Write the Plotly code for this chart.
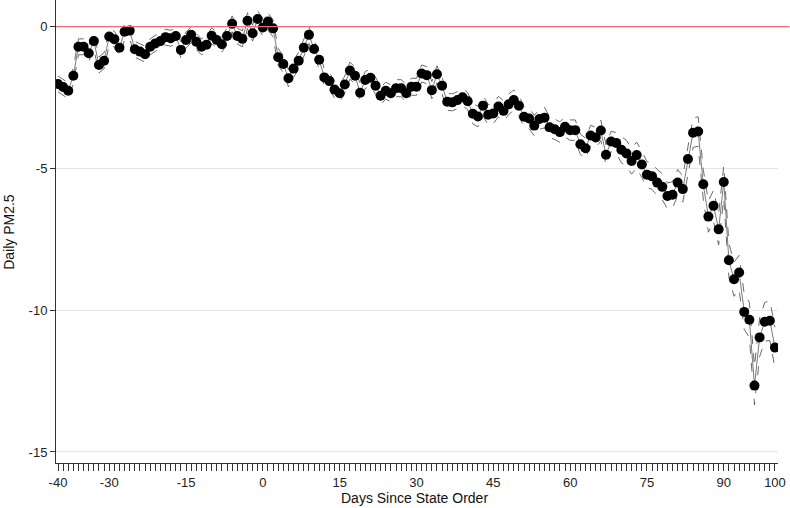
import plotly.graph_objs as go

# Days relative to the state order (-40 .. 100)
dias = list(range(-40, 101))

# Daily PM2.5 estimate, one value per day
pm25 = [
    -2.02, -2.13, -2.26, -1.73, -0.71, -0.71, -0.94, -0.51, -1.35, -1.20,  # -40..-31
    -0.35, -0.44, -0.74, -0.18, -0.14, -0.80, -0.88, -0.97, -0.71, -0.59,  # -30..-21
    -0.51, -0.37, -0.41, -0.33, -0.82, -0.47, -0.29, -0.53, -0.71, -0.64,  # -20..-11
    -0.32, -0.47, -0.62, -0.33, 0.10, -0.33, -0.43, 0.21, -0.23, 0.27,     # -10..-1
    -0.03, 0.18, -0.06, -1.08, -1.32, -1.82, -1.48, -1.20, -0.74, -0.29,   # 0..9
    -0.79, -1.17, -1.79, -1.92, -2.22, -2.35, -2.04, -1.55, -1.73, -2.33,  # 10..19
    -1.88, -1.80, -2.08, -2.44, -2.26, -2.35, -2.17, -2.17, -2.35, -2.12,  # 20..29
    -2.12, -1.65, -1.71, -2.24, -1.68, -2.08, -2.65, -2.67, -2.59, -2.49,  # 30..39
    -2.63, -3.07, -3.17, -2.79, -3.11, -3.06, -2.82, -2.97, -2.74, -2.59,  # 40..49
    -2.79, -3.18, -3.24, -3.49, -3.26, -3.21, -3.55, -3.62, -3.72, -3.53,  # 50..59
    -3.65, -3.65, -4.15, -4.29, -3.84, -3.91, -3.66, -4.52, -4.05, -4.10,  # 60..69
    -4.34, -4.47, -4.74, -4.53, -4.86, -5.22, -5.28, -5.50, -5.65, -5.97,  # 70..79
    -5.93, -5.50, -5.73, -4.67, -3.74, -3.70, -5.56, -6.70, -6.32, -7.15,  # 80..89
    -5.48, -8.24, -8.91, -8.67, -10.06, -10.34, -12.66, -10.96, -10.41, -10.37,  # 90..99
    -11.32,  # 100
]

# Half width of the confidence band
ic_meia = [
    0.28, 0.28, 0.28, 0.28, 0.28, 0.28, 0.28, 0.28, 0.28, 0.28,
    0.28, 0.28, 0.28, 0.28, 0.28, 0.28, 0.28, 0.28, 0.28, 0.28,
    0.28, 0.28, 0.28, 0.28, 0.28, 0.28, 0.28, 0.28, 0.28, 0.28,
    0.28, 0.28, 0.28, 0.28, 0.28, 0.28, 0.28, 0.28, 0.28, 0.28,
    0.30, 0.30, 0.30, 0.30, 0.30, 0.30, 0.30, 0.30, 0.30, 0.30,
    0.30, 0.30, 0.30, 0.30, 0.30, 0.30, 0.30, 0.30, 0.30, 0.30,
    0.30, 0.30, 0.30, 0.30, 0.30, 0.30, 0.30, 0.30, 0.30, 0.30,
    0.30, 0.30, 0.30, 0.30, 0.30, 0.30, 0.30, 0.30, 0.30, 0.30,
    0.30, 0.36, 0.36, 0.36, 0.36, 0.36, 0.36, 0.36, 0.36, 0.36,
    0.36, 0.36, 0.36, 0.36, 0.36, 0.36, 0.36, 0.36, 0.36, 0.36,
    0.36, 0.36, 0.36, 0.36, 0.36, 0.36, 0.36, 0.36, 0.36, 0.36,
    0.46, 0.46, 0.46, 0.46, 0.46, 0.46, 0.46, 0.46, 0.46, 0.46,
    0.46, 0.46, 0.46, 0.50, 0.52, 0.52, 0.52, 0.55, 0.55, 0.55,
    0.58, 0.60, 0.60, 0.60, 0.62, 0.62, 0.68, 0.68, 0.68, 0.70,
    0.72,
]

ticks_x = [-40, -30, -15, 0, 15, 30, 45, 60, 75, 90, 100]
rotulos_x = ["-40", "-30", "-15", "0", "15", "30", "45", "60", "75", "90", "100"]
ticks_y = [0, -5, -10, -15]
rotulos_y = ["0", "-5", "-10", "-15"]

FONTE = "Liberation Sans, Arial, Helvetica, sans-serif"


def gera_grafico(dias, valores, meia):
    '''Event-study style plot of daily PM2.5 with dashed confidence band'''
    superior = [v + h for v, h in zip(valores, meia)]
    inferior = [v - h for v, h in zip(valores, meia)]

    fig = go.Figure()

    # Confidence band (dashed lines)
    for serie in (superior, inferior):
        fig.add_trace(go.Scatter(
            x=dias, y=serie, mode="lines",
            line=dict(color="#444444", width=0.8, dash="dash"),
            hoverinfo="skip", showlegend=False,
        ))

    # Estimate: thin connecting line + black dots
    fig.add_trace(go.Scatter(
        x=dias, y=valores, mode="lines+markers",
        line=dict(color="#7a7a7a", width=1),
        marker=dict(color="black", size=10),
        showlegend=False,
    ))

    # Red reference line at zero
    fig.add_shape(
        type="line", xref="paper", yref="y",
        x0=0, x1=1.016, y0=0, y1=0,
        line=dict(color="#ee6b6b", width=1.2),
    )

    # Axis titles as annotations so they sit where the original has them
    fig.add_annotation(
        text="Days Since State Order", xref="paper", yref="paper",
        x=0.496, y=-0.076, xanchor="center", yanchor="middle",
        showarrow=False, font=dict(size=14, color="#111111"),
    )
    fig.add_annotation(
        text="Daily PM2.5", xref="paper", yref="paper",
        x=-0.066, y=0.5, xanchor="center", yanchor="middle", textangle=-90,
        showarrow=False, font=dict(size=14, color="#111111"),
    )

    fig.update_layout(
        width=790, height=508,
        margin=dict(l=56, r=12, t=0, b=45),
        plot_bgcolor="white", paper_bgcolor="white",
        font=dict(family=FONTE, size=13, color="#222222"),
    )

    fig.update_xaxes(
        range=[-40.39, 100.59],
        tickvals=ticks_x, ticktext=rotulos_x,
        ticks="outside", ticklen=7, tickcolor="#333333", tickwidth=1,
        minor=dict(dtick=1, tick0=0, ticks="outside", ticklen=7, tickcolor="#333333", tickwidth=1),
        showline=True, linecolor="#333333", linewidth=1,
        showgrid=False, zeroline=False, automargin=False,
        tickfont=dict(size=13),
    )

    fig.update_yaxes(
        range=[-15.39, 0.94],
        tickvals=ticks_y, ticktext=rotulos_y,
        ticks="outside", ticklen=5, tickcolor="#333333",
        showline=True, linecolor="#333333", linewidth=1,
        showgrid=True, gridcolor="#e6e6e6", gridwidth=1,
        zeroline=False, automargin=False,
        tickfont=dict(size=13),
    )

    return fig


fig = gera_grafico(dias, pm25, ic_meia)
# remove the page's default 8px body margin so the figure fills the window
fig.write_html(
    "out.html",
    config={"displayModeBar": False},
    post_script="document.body.style.margin='0';document.body.style.overflow='hidden';",
)
